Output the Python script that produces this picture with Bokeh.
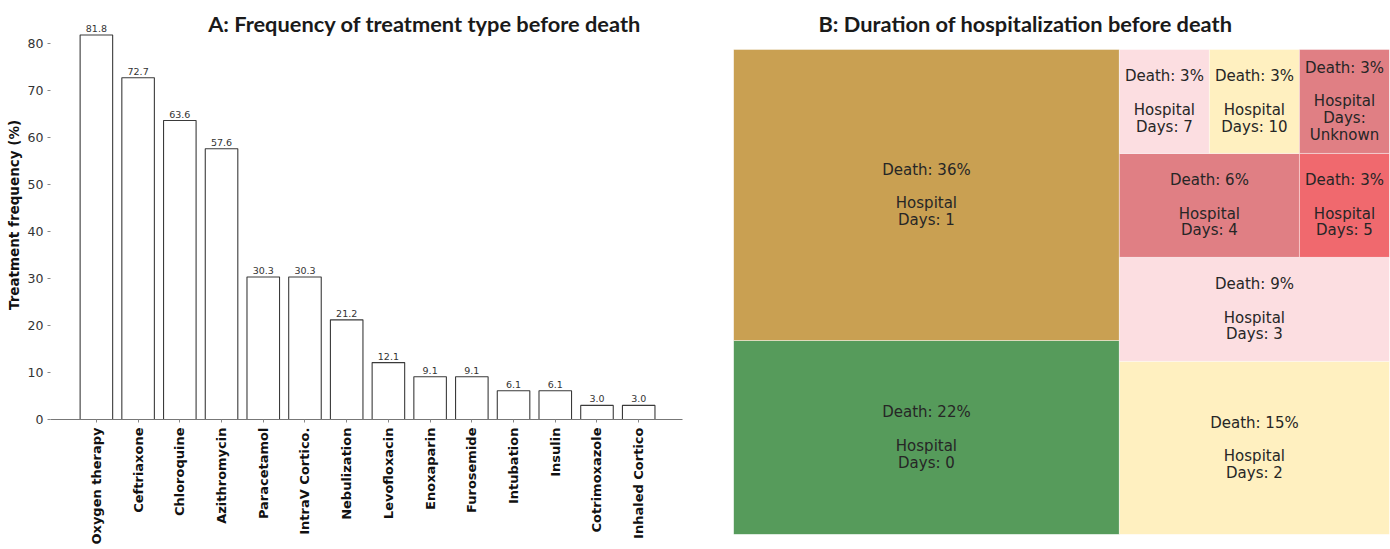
import math
from bokeh.plotting import figure
from bokeh.layouts import row
from bokeh.models import Range1d, FixedTicker, Label, ColumnDataSource
from bokeh.embed import file_html
from bokeh.resources import INLINE
from bokeh.core.properties import value

# ---------------- data ----------------
treatments = ["Oxygen therapy", "Ceftriaxone", "Chloroquine", "Azithromycin",
              "Paracetamol", "IntraV Cortico.", "Nebulization", "Levofloxacin",
              "Enoxaparin", "Furosemide", "Intubation", "Insulin",
              "Cotrimoxazole", "Inhaled Cortico"]
frequency = [81.8, 72.7, 63.6, 57.6, 30.3, 30.3, 21.2, 12.1, 9.1, 9.1, 6.1, 6.1, 3.0, 3.0]
y_ticks = [0, 10, 20, 30, 40, 50, 60, 70, 80]

hospital_days = ["0", "1", "2", "3", "4", "5", "7", "10", "Unknown"]
death_pct = [22, 36, 15, 9, 6, 3, 3, 3, 3]
area_share = [24, 36, 15, 9, 6, 3, 3, 3, 3]
cell_colors = ["#569B5B", "#C9A052", "#FFF0C0", "#FCDEE1", "#E07F84",
               "#F0696E", "#FCDEE1", "#FFF0C0", "#E07F84"]

TITLE_FONT = "Lato"
TEXT_FONT = "DejaVu Sans"

# ---------------- squarify layout ----------------
def _layoutrow(sizes, x, y, dx, dy):
    width = sum(sizes) / dy
    rects = []
    for s in sizes:
        rects.append((x, y, width, s / width))
        y += s / width
    return rects

def _layoutcol(sizes, x, y, dx, dy):
    height = sum(sizes) / dx
    rects = []
    for s in sizes:
        rects.append((x, y, s / height, height))
        x += s / height
    return rects

def _layout(sizes, x, y, dx, dy):
    return _layoutrow(sizes, x, y, dx, dy) if dx >= dy else _layoutcol(sizes, x, y, dx, dy)

def _leftover(sizes, x, y, dx, dy):
    if dx >= dy:
        w = sum(sizes) / dy
        return x + w, y, dx - w, dy
    h = sum(sizes) / dx
    return x, y + h, dx, dy - h

def _worst(sizes, x, y, dx, dy):
    return max(max(r[2] / r[3], r[3] / r[2]) for r in _layout(sizes, x, y, dx, dy))

def squarify(sizes, x, y, dx, dy):
    if len(sizes) == 0:
        return []
    if len(sizes) == 1:
        return _layout(sizes, x, y, dx, dy)
    i = 1
    while i < len(sizes) and _worst(sizes[:i], x, y, dx, dy) >= _worst(sizes[:i + 1], x, y, dx, dy):
        i += 1
    cur, rem = sizes[:i], sizes[i:]
    lx, ly, ldx, ldy = _leftover(cur, x, y, dx, dy)
    return _layout(cur, x, y, dx, dy) + squarify(rem, lx, ly, ldx, ldy)

# ---------------- panel A ----------------
xs = list(range(len(treatments)))
pA = figure(width=700, height=549, x_range=Range1d(-1.1, 14.05), y_range=Range1d(0, 87.0),
            output_backend="svg", toolbar_location=None,
            min_border_left=50, min_border_right=18, min_border_top=10, min_border_bottom=130)
pA.frame_align = False
pA.outline_line_color = None
pA.grid.visible = False
pA.background_fill_color = "white"

srcA = ColumnDataSource(dict(x=xs, top=frequency, lab=["%.1f" % v for v in frequency]))
pA.vbar(x="x", top="top", bottom=0, width=0.78, source=srcA,
        fill_color="white", line_color="#3a3a3a", line_width=1.1)
pA.text(x="x", y="top", text="lab", source=srcA, y_offset=-3,
        text_align="center", text_baseline="bottom",
        text_font=value(TEXT_FONT), text_font_size="9.5px", text_color="#333333")

xa = pA.xaxis[0]
xa.ticker = FixedTicker(ticks=xs)
xa.major_label_overrides = {i: t for i, t in enumerate(treatments)}
xa.major_label_orientation = math.pi / 2
xa.major_label_text_font = TEXT_FONT
xa.major_label_text_font_style = "bold"
xa.major_label_text_font_size = "13px"
xa.major_label_text_color = "#111111"
xa.major_label_standoff = 5
xa.axis_line_color = "#777777"
xa.axis_line_width = 1.2
xa.major_tick_line_color = "#888888"
xa.major_tick_out = 3
xa.major_tick_in = 0
xa.minor_tick_line_color = None

ya = pA.yaxis[0]
ya.ticker = FixedTicker(ticks=y_ticks)
ya.axis_line_color = None
ya.major_tick_line_color = "#888888"
ya.major_tick_out = 3
ya.major_tick_in = 0
ya.minor_tick_line_color = None
ya.major_label_text_font = TEXT_FONT
ya.major_label_text_font_size = "12.5px"
ya.major_label_text_color = "#333333"
ya.major_label_standoff = 4
ya.axis_label = "Treatment frequency (%)"
ya.axis_label_text_font = TEXT_FONT
ya.axis_label_text_font_style = "bold"
ya.axis_label_text_font_size = "13.5px"
ya.axis_label_text_color = "#111111"
ya.axis_label_standoff = 3

pA.add_layout(Label(x=7.87, y=84.26, text="A: Frequency of treatment type before death",
                    text_align="center", text_baseline="middle",
                    text_font=TITLE_FONT, text_font_style="bold",
                    text_font_size="21.8px", text_color="#1a1a1a"))

# ---------------- panel B ----------------
total = float(sum(area_share))
norm = [v * 100.0 * 100.0 / total for v in area_share]
rects = squarify(norm, 0.0, 0.0, 100.0, 100.0)
left = [r[0] for r in rects]
right = [r[0] + r[2] for r in rects]
bottom = [r[1] for r in rects]
top = [r[1] + r[3] for r in rects]
cx = [(l + r) / 2 for l, r in zip(left, right)]
cy = [(b + t) / 2 for b, t in zip(bottom, top)]
labels = []
for d, pct in zip(hospital_days, death_pct):
    if d == "Unknown":
        labels.append("Death: %d%%\n\nHospital\nDays:\nUnknown" % pct)
    else:
        labels.append("Death: %d%%\n\nHospital\nDays: %s" % (pct, d))

pB = figure(width=690, height=549, x_range=Range1d(0, 100), y_range=Range1d(0, 108.04),
            output_backend="svg", toolbar_location=None,
            x_axis_type=None, y_axis_type=None,
            min_border_left=33, min_border_right=1, min_border_top=10, min_border_bottom=15)
pB.frame_align = False
pB.outline_line_color = None
pB.grid.visible = False

srcB = ColumnDataSource(dict(left=left, right=right, bottom=bottom, top=top,
                             color=cell_colors, cx=cx, cy=cy, lab=labels))
pB.quad(left="left", right="right", bottom="bottom", top="top", source=srcB,
        fill_color="color", line_color="white", line_alpha=0.4, line_width=1)
pB.text(x="cx", y="cy", text="lab", source=srcB, text_align="center",
        text_baseline="middle", text_font=value(TEXT_FONT), text_font_size="15px",
        text_line_height=0.93, text_color="#262626")

pB.add_layout(Label(x=44.5, y=105.36, text="B: Duration of hospitalization before death",
                    text_align="center", text_baseline="middle",
                    text_font=TITLE_FONT, text_font_style="bold",
                    text_font_size="21.8px", text_color="#1a1a1a"))

layout = row(pA, pB)
open("out.html", "w").write(file_html(layout, INLINE))
